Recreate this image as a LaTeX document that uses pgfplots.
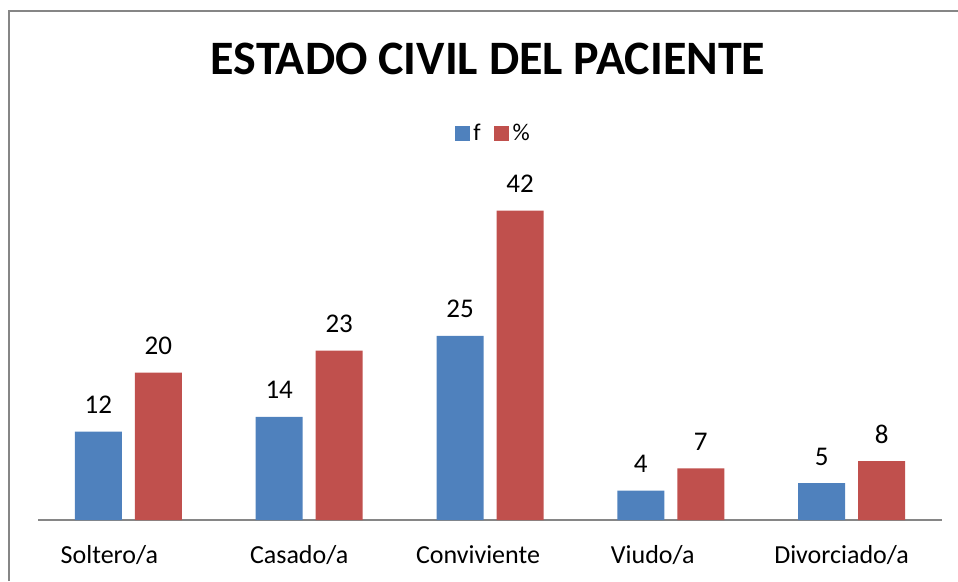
\documentclass[border=0pt]{standalone}
\usepackage{pgfplots}
\pgfplotsset{compat=1.18}
\usepackage{fontspec}
\setmainfont{Carlito}
\definecolor{cblue}{HTML}{4F81BD}
\definecolor{cred}{HTML}{C0504D}
\definecolor{bordergray}{RGB}{134,134,134}
\newcommand\lblfont{\fontsize{26}{30}\selectfont}
\newcommand\numfont{\fontsize{27}{31}\selectfont}
\newcommand\legfont{\fontsize{24}{28}\selectfont}
\begin{document}
\begin{tikzpicture}[x=1pt,y=1pt]
\path[use as bounding box] (0,0) rectangle (958,581);
\draw[bordergray,line width=1.5pt] (9,0) -- (9,570) -- (958,570);
\node[anchor=base,font=\fontsize{48}{52}\selectfont\bfseries] at (488,506) {ESTADO CIVIL DEL PACIENTE};
\begin{axis}[
  at={(38pt,61pt)}, anchor=south west,
  scale only axis, width=904pt, height=331.6pt,
  xmin=-0.5, xmax=4.5, ymin=0, ymax=45,
  axis x line*=bottom, axis y line=none,
  x axis line style={bordergray,line width=1.5pt,-},
  xtick=data,
  xticklabels={Soltero/a\kern38pt,Casado/a\kern20pt,Conviviente\kern24pt,Viudo/a\kern36pt,Divorciado/a\kern20pt},
  major tick length=0pt,
  /pgf/number format/assume math mode=true,
  xticklabel style={font=\lblfont, inner sep=0pt, anchor=base, yshift=-43pt},
  ybar, bar width=47pt,
  nodes near coords,
  nodes near coords style={font=\numfont, inner sep=0pt, anchor=base, yshift=18pt},
  legend columns=2,
  legend style={draw=none, fill=none, at={(0.5045,1.167)}, anchor=center,
    nodes={inner sep=3.5pt, font=\legfont},
    /tikz/every even column/.append style={column sep=10pt}},
  legend image code/.code={\fill[#1] (0pt,-7.5pt) rectangle (15pt,7.5pt);},
]
\addplot[fill=cblue, draw=none, bar shift=-30pt] coordinates {(0,12) (1,14) (2,25) (3,4) (4,5)};
\addplot[fill=cred, draw=none, bar shift=30pt] coordinates {(0,20) (1,23) (2,42) (3,7) (4,8)};
\legend{f,\%}
\end{axis}
\end{tikzpicture}
\end{document}
